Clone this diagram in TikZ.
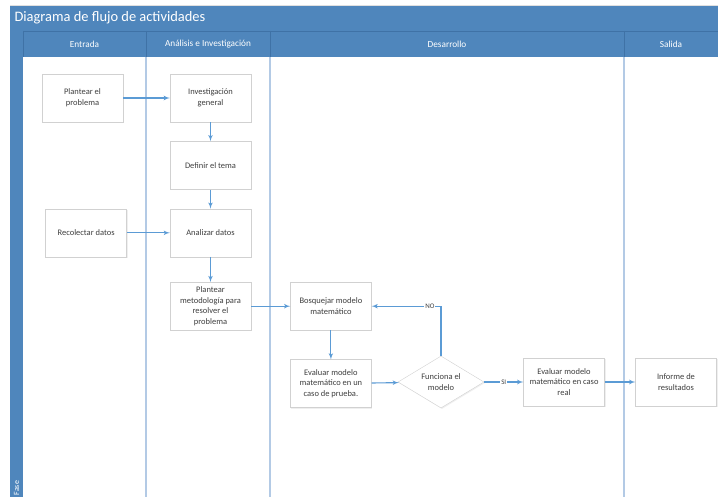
\documentclass[tikz,border=0pt]{standalone}
\usepackage{fontspec}
\setmainfont{Carlito}
\usetikzlibrary{arrows,calc,positioning,shapes.geometric,shadows}

\definecolor{bandblue}{HTML}{4F86BC}
\definecolor{bandline}{HTML}{3F72A6}
\definecolor{flowblue}{HTML}{5B9BD5}
\definecolor{lanegray}{HTML}{B3CAE5}
\definecolor{boxtext}{HTML}{3F3F3F}

\tikzset{
  task/.style={draw=black!18, fill=white, drop shadow={opacity=.12, shadow xshift=1bp, shadow yshift=-1bp},
    minimum width=81bp, minimum height=48bp, inner sep=1bp, align=center,
    font=\fontsize{8.5}{10.7}\selectfont, text=boxtext},
  check/.style={diamond, draw=black!18, fill=white, drop shadow={opacity=.12, shadow xshift=1bp, shadow yshift=-1bp},
    minimum width=86bp, minimum height=52bp, aspect=1.65, inner sep=0pt, align=center,
    font=\fontsize{8.5}{10.7}\selectfont, text=boxtext},
  lane/.style={draw=lanegray, line width=1.6bp},
  head/.style={text=white, font=\fontsize{9.3}{11}\selectfont},
  flow/.style={color=flowblue, line width=1.1bp},
  tag/.style={fill=white, inner sep=1bp, font=\fontsize{7}{8}\selectfont, text=boxtext}
}

\begin{document}
\begin{tikzpicture}[x=1bp,y=-1bp,>=latex',node distance=19bp]
	\useasboundingbox (0,0) rectangle (718,497);
	\fill[white] (0,0) rectangle (718,497);
	% pool and lanes
	\fill[bandblue] (10,5) rectangle (718,31);
	\fill[bandblue] (10,31) rectangle (23,497);
	\fill[bandblue] (23,31) rectangle (718,57);
	\draw[black!12] (10,5) -- (718,5);
	\draw[bandline, line width=.6bp] (23,31) -- (718,31) (23,31) -- (23,57);
	\foreach \x in {146,270,624} {
		\draw[lane] (\x,57) -- (\x,497);
		\draw[bandline, line width=.6bp] (\x,31) -- (\x,57);
	}
	\node[anchor=west, text=white, font=\fontsize{14.5}{16}\selectfont] (title) at (11,18) {Diagrama de flujo de actividades};
	\node[head] (h_entrada) at (84.5,44) {Entrada};
	\node[head] (h_analisis) at (208,44) {Análisis e Investigación};
	\node[head] (h_desarrollo) at (447,44) {Desarrollo};
	\node[head] (h_salida) at (671,44) {Salida};
	\node[rotate=90, anchor=west, inner sep=0pt, text=white, font=\fontsize{8}{9}\selectfont] (fase) at (16.5,495.5) {Fase};

	% activities
	\node[task] (plantear) at (82.5,98) {Plantear el\\problema};
	\node[task] (investigar) at (210.5,98) {Investigación\\general};
	\node[task] [below=of investigar] (tema) {Definir el tema};
	\node[task] [below=of tema] (analizar) {Analizar datos};
	\node[task] [left=43bp of analizar] (recolectar) {Recolectar datos};
	\node[task] [below=25bp of analizar] (metodo) {Plantear\\metodología para\\resolver el\\problema};
	\node[task] [right=39bp of metodo] (bosquejo) {Bosquejar modelo\\matemático};
	\node[task] [below=29bp of bosquejo] (prueba) {Evaluar modelo\\matemático en un\\caso de prueba.};
	\node[check] (funciona) at (441,382) {Funciona el\\modelo};
	\node[task] (real) at (564,382) {Evaluar modelo\\matemático en caso\\real};
	\node[task] (informe) at (676,382) {Informe de\\resultados};

	\path[flow,->]
		(plantear) edge (investigar)
		(investigar) edge (tema)
		(tema) edge (analizar)
		(recolectar) edge (analizar)
		(analizar) edge (metodo)
		(metodo) edge (bosquejo)
		(bosquejo) edge (prueba)
		(prueba) edge (funciona)
		(funciona) edge node [tag] {SI} (real)
		(real) edge (informe);
	\draw[flow,->] (funciona.north) |- node [tag, pos=.58] {NO} (bosquejo.east);
\end{tikzpicture}
\end{document}
